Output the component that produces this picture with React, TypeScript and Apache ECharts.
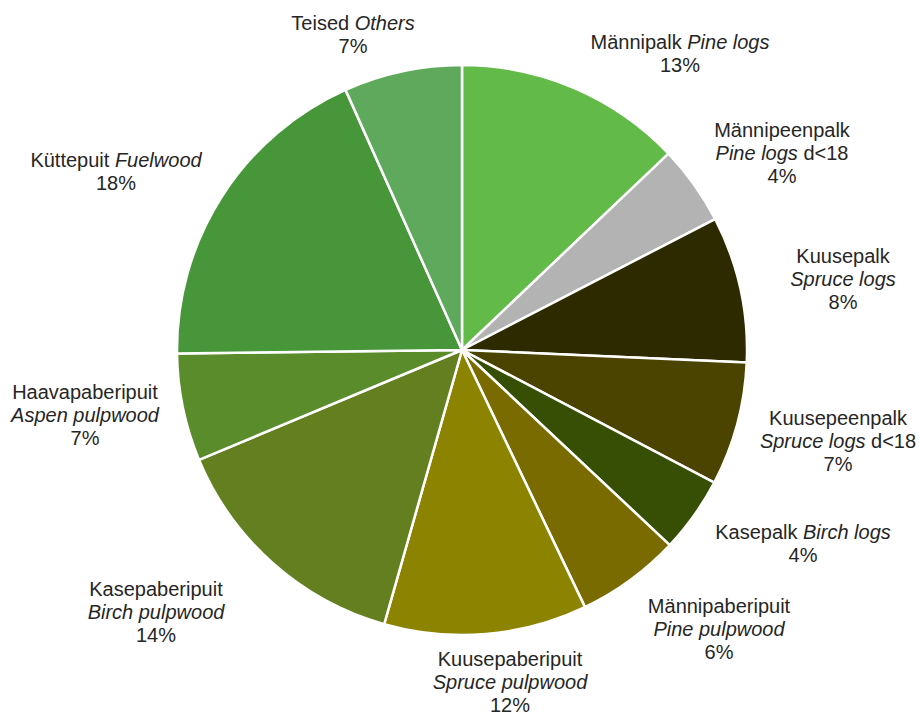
import React, { useEffect, useRef } from "react";
import * as echarts from "echarts";

// Data
const namesEt = [
  "Männipalk",
  "Männipeenpalk",
  "Kuusepalk",
  "Kuusepeenpalk",
  "Kasepalk",
  "Männipaberipuit",
  "Kuusepaberipuit",
  "Kasepaberipuit",
  "Haavapaberipuit",
  "Küttepuit",
  "Teised",
];
const namesEn = [
  "Pine logs",
  "Pine logs",
  "Spruce logs",
  "Spruce logs",
  "Birch logs",
  "Pine pulpwood",
  "Spruce pulpwood",
  "Birch pulpwood",
  "Aspen pulpwood",
  "Fuelwood",
  "Others",
];
const nameSuffix = ["", " d<18", "", " d<18", "", "", "", "", "", "", ""];
const values = [12.9, 4.5, 8.3, 7.0, 4.3, 5.9, 11.5, 14.3, 6.1, 18.5, 6.7];
const percentLabels = ["13%", "4%", "8%", "7%", "4%", "6%", "12%", "14%", "7%", "18%", "7%"];

// Presentation
const colors = [
  "#62BA48",
  "#B3B3B4",
  "#2E2A00",
  "#4B4300",
  "#374F04",
  "#7A6B00",
  "#8C8300",
  "#637F20",
  "#5B8C2C",
  "#47963A",
  "#5EA95B",
];
const singleLine = [true, false, false, false, true, false, false, false, false, true, true];
const labelCenters: [number, number][] = [
  [680, 53],
  [782, 153],
  [843, 279],
  [838, 441],
  [803, 543],
  [719, 629],
  [510, 682],
  [156, 612],
  [85, 415],
  [116, 171],
  [353, 34],
];

const FONT = "'Liberation Sans', Arial, Helvetica, sans-serif";
const TEXT = "#262626";

export default function App() {
  const ref = useRef<HTMLDivElement>(null);
  useEffect(() => {
    if (!ref.current) return;
    const chart = echarts.init(ref.current, undefined, { renderer: "svg" });
    const data = values.map((v, i) => ({
      value: v,
      name: namesEt[i],
      itemStyle: { color: colors[i] },
    }));
    chart.setOption({
      animation: false,
      backgroundColor: "#ffffff",
      series: [
        {
          type: "pie",
          center: [462, 350],
          radius: [0, 285],
          startAngle: 90,
          clockwise: true,
          avoidLabelOverlap: false,
          data,
          itemStyle: { borderColor: "#ffffff", borderWidth: 2.5 },
          emphasis: { disabled: true },
          labelLine: { show: false },
          label: {
            show: true,
            position: "outside",
            formatter: (p: any) => {
              const i = p.dataIndex;
              const en = `{i|${namesEn[i]}}` + (nameSuffix[i] ? `{n|${nameSuffix[i]}}` : "");
              const pct = `{n|${percentLabels[i]}}`;
              return singleLine[i]
                ? `{n|${namesEt[i]} }${en}\n${pct}`
                : `{n|${namesEt[i]}}\n${en}\n${pct}`;
            },
            rich: {
              n: { fontFamily: FONT, fontSize: 20, color: TEXT, lineHeight: 23, fontStyle: "normal" },
              i: { fontFamily: FONT, fontSize: 20, color: TEXT, lineHeight: 23, fontStyle: "italic" },
            },
          },
          labelLayout: (params: any) => {
            const c = labelCenters[params.dataIndex];
            return { x: c[0], y: c[1], align: "center", verticalAlign: "middle" };
          },
        },
      ],
    });
    return () => chart.dispose();
  }, []);
  return (
    <div
      ref={ref}
      style={{ position: "absolute", left: 0, top: 0, width: 919, height: 716 }}
    />
  );
}
